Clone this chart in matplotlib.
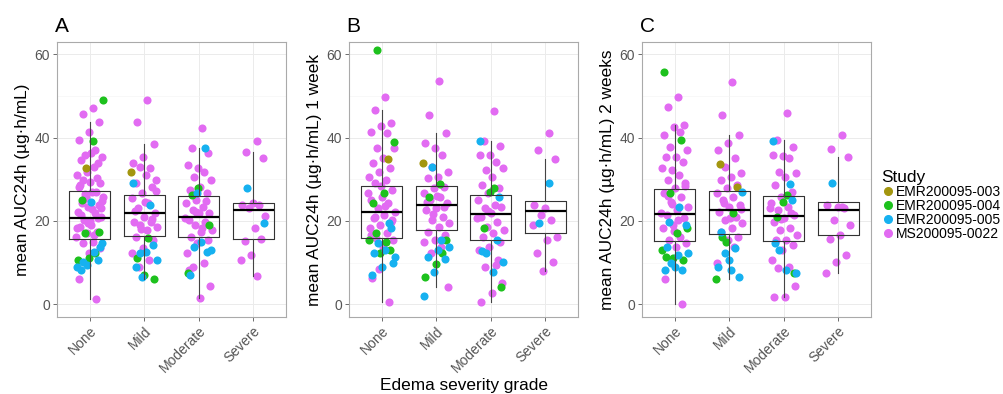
import numpy as np
import matplotlib.pyplot as plt
from matplotlib.lines import Line2D
from matplotlib.ticker import MultipleLocator

plt.rcParams['font.family'] = ['Liberation Sans', 'DejaVu Sans']

GRADES = ["None", "Mild", "Moderate", "Severe"]
STUDIES = ["EMR200095-003", "EMR200095-004", "EMR200095-005", "MS200095-0022"]
COLORS = ["#A3960F", "#1DC11D", "#16B1F0", "#E26BF2"]

# mean AUC24h per patient, by study and edema grade
A_003 = {"None": [32.6], "Mild": [31.8], "Moderate": [], "Severe": []}
A_004 = {"None": [49.0, 39.2, 25.0, 17.4, 11.0, 10.6, 12.2, 17.0],
         "Mild": [15.8, 11.0, 6.0, 7.0],
         "Moderate": [26.2, 19.0, 27.8, 7.4],
         "Severe": []}
A_005 = {"None": [14.6, 24.6, 8.2, 10.6, 9.4, 9.0, 12.6, 10.2, 13.8],
         "Mild": [29.0, 23.8, 12.2, 10.6, 12.6, 9.0, 14.2, 6.6],
         "Moderate": [37.4, 13.8, 13.0, 15.0, 7.0, 12.6, 26.6],
         "Severe": [27.8, 19.4]}
A_0022 = {"None": [47.0, 45.7, 43.8, 41.4, 39.4, 37.0, 35.8, 35.4, 36.2, 34.6, 33.8, 31.8,
                   31.0, 33.0, 29.8, 29.0, 29.4, 28.2, 27.0, 25.8, 25.8, 27.0, 24.2, 23.8,
                   23.4, 22.2, 21.8, 20.2, 21.0, 19.0, 18.6, 17.4, 17.0, 16.2, 15.0, 14.6,
                   13.4, 12.2, 6.0, 1.2, 26.4, 24.8, 22.8, 21.4, 20.6, 19.6, 18.2, 16.6,
                   25.2, 23.0, 20.0, 28.6, 30.4],
          "Mild": [49.0, 43.8, 38.4, 35.4, 33.8, 32.6, 33.0, 29.8, 31.0, 29.0, 28.2, 26.6,
                   25.4, 24.2, 23.0, 21.8, 21.0, 19.8, 19.8, 19.0, 18.6, 17.8, 16.2, 15.4,
                   13.4, 12.2, 10.6, 9.0, 27.2, 24.6, 22.4, 20.4, 18.0],
          "Moderate": [42.2, 37.6, 36.2, 32.6, 33.4, 31.8, 30.6, 29.8, 28.2, 27.4, 26.6, 25.0,
                       24.2, 23.4, 22.6, 21.8, 21.8, 20.2, 19.8, 19.0, 17.8, 17.4, 16.2, 15.4,
                       14.6, 12.2, 9.8, 9.0, 4.4, 1.4, 8.2, 24.8, 22.2, 20.6, 18.4],
          "Severe": [39.3, 36.5, 35.0, 24.2, 23.8, 23.8, 23.0, 21.2, 18.2, 15.2, 15.6, 11.8,
                     10.6, 6.8]}

B_003 = {"None": [34.9], "Mild": [33.8], "Moderate": [], "Severe": []}
B_004 = {"None": [61.0, 39.0, 26.6, 24.2, 13.0, 12.2, 15.4, 15.0, 17.0],
         "Mild": [28.9, 25.8, 15.4, 9.7, 6.5, 12.2],
         "Moderate": [27.8, 18.2, 4.2, 27.0],
         "Severe": []}
B_005 = {"None": [10.0, 9.0, 7.0, 19.4, 14.6, 11.4, 13.0, 12.2, 18.2],
         "Mild": [33.0, 13.8, 13.0, 11.4, 10.8, 7.8, 2.0, 15.4],
         "Moderate": [39.3, 15.4, 12.2, 10.2, 7.8, 12.9, 25.8],
         "Severe": [29.0, 19.6]}
B_0022 = {"None": [49.8, 46.6, 43.4, 42.8, 41.4, 41.0, 37.4, 37.4, 35.0, 33.8, 32.6, 31.8,
                   30.6, 29.8, 29.0, 27.4, 25.8, 25.0, 24.2, 23.0, 22.2, 21.4, 20.6, 19.8,
                   19.0, 18.2, 17.0, 15.8, 15.4, 13.8, 6.2, 0.5, 8.4, 26.6, 23.6, 21.0,
                   20.2, 28.4, 16.6],
          "Mild": [53.6, 45.4, 41.0, 37.4, 38.6, 35.8, 33.0, 31.8, 30.6, 30.2, 28.2, 27.8,
                   26.6, 25.8, 25.0, 24.2, 23.0, 22.6, 21.0, 20.2, 19.4, 18.6, 17.4, 16.6,
                   15.4, 15.0, 13.8, 12.2, 4.2, 26.0, 24.6, 23.4, 21.6],
          "Moderate": [46.5, 39.3, 38.0, 35.8, 35.8, 34.2, 32.2, 32.6, 30.6, 28.6, 27.8, 26.6,
                       25.0, 23.8, 23.0, 23.4, 21.8, 21.0, 19.8, 18.6, 17.8, 17.0, 16.2, 15.0,
                       13.8, 13.0, 9.4, 9.0, 5.0, 2.6, 0.6, 10.6, 22.4, 20.6],
          "Severe": [41.0, 37.0, 34.8, 23.0, 23.8, 20.2, 21.4, 16.2, 15.4, 12.4, 10.2, 8.1,
                     19.0]}

C_003 = {"None": [], "Mild": [33.7, 28.2], "Moderate": [], "Severe": []}
C_004 = {"None": [55.8, 39.4, 26.6, 18.2, 17.0, 11.4, 10.6, 11.0, 13.0],
         "Mild": [15.0, 6.0, 21.8, 16.2],
         "Moderate": [26.2, 21.0, 7.6, 24.6],
         "Severe": []}
C_005 = {"None": [23.4, 19.8, 19.0, 9.0, 8.2, 8.2, 9.8, 12.2, 11.8, 13.8],
         "Mild": [6.6, 10.6, 9.0, 13.4, 12.2, 27.0, 8.2, 17.4],
         "Moderate": [39.3, 28.9, 13.0, 7.4, 8.2, 14.6, 25.0],
         "Severe": [29.0]}
C_0022 = {"None": [49.7, 47.4, 43.0, 42.5, 40.6, 41.4, 37.8, 37.0, 35.4, 35.4, 34.2, 32.2,
                   32.6, 31.0, 29.8, 29.0, 27.8, 26.6, 25.8, 24.6, 23.4, 22.6, 21.4, 20.6,
                   19.0, 18.2, 16.2, 15.4, 14.6, 13.8, 6.1, 0.0, 24.0, 22.0, 20.2, 26.0,
                   28.4, 17.6],
          "Mild": [53.4, 45.4, 40.6, 38.6, 37.0, 35.0, 33.0, 31.4, 30.6, 29.8, 28.6, 27.8,
                   26.6, 25.8, 25.0, 23.8, 23.4, 22.2, 21.0, 20.2, 19.4, 18.2, 17.4, 16.2,
                   15.4, 9.8, 13.8, 24.4, 22.8, 20.8],
          "Moderate": [46.0, 39.4, 37.8, 35.7, 35.8, 35.0, 31.8, 31.4, 30.6, 28.6, 27.0, 25.8,
                       24.2, 23.4, 22.6, 21.4, 20.6, 19.8, 18.2, 17.8, 16.6, 15.4, 15.4, 14.2,
                       13.0, 10.6, 9.0, 8.6, 4.4, 1.8, 1.8, 22.0, 20.4, 23.0],
          "Severe": [40.6, 37.2, 35.4, 23.4, 23.8, 23.0, 20.2, 19.0, 16.6, 15.6, 11.8, 10.2,
                     7.4, 23.4]}

# boxplot summaries (median, hinges, whisker ends) per grade
A_MED = [20.6, 21.8, 21.0, 22.6]
A_Q1 = [15.6, 16.5, 16.1, 15.6]
A_Q3 = [27.2, 26.2, 26.0, 24.4]
A_LO = [1.2, 6.0, 1.4, 6.8]
A_HI = [43.8, 38.4, 37.6, 36.5]

B_MED = [22.2, 23.8, 21.7, 22.5]
B_Q1 = [15.9, 17.8, 15.5, 17.0]
B_Q3 = [28.5, 28.3, 26.2, 24.7]
B_LO = [0.5, 4.2, 0.6, 8.1]
B_HI = [46.6, 41.0, 39.3, 34.8]

C_MED = [21.6, 22.6, 21.3, 22.6]
C_Q1 = [15.3, 16.8, 15.2, 16.7]
C_Q3 = [27.6, 27.3, 26.1, 24.6]
C_LO = [0.0, 6.0, 1.8, 7.4]
C_HI = [43.0, 40.6, 39.4, 35.4]

PANELS = [
    ("A", "mean AUC24h (µg·h/mL)", [A_003, A_004, A_005, A_0022], (A_MED, A_Q1, A_Q3, A_LO, A_HI)),
    ("B", "mean AUC24h (µg·h/mL) 1 week", [B_003, B_004, B_005, B_0022], (B_MED, B_Q1, B_Q3, B_LO, B_HI)),
    ("C", "mean AUC24h (µg·h/mL) 2 weeks", [C_003, C_004, C_005, C_0022], (C_MED, C_Q1, C_Q3, C_LO, C_HI)),
]
LEFTS = [57, 349, 642]

fig = plt.figure(figsize=(10.04, 3.94), dpi=100)


def jitter(n, start):
    # deterministic spread of points across the box width
    k = np.arange(start, start + n) + 1
    return ((k * 0.6180339887) % 1.0 - 0.5) * 0.5


for (letter, ylab, studies, box), left in zip(PANELS, LEFTS):
    ax = fig.add_axes([left / 1004, 77 / 394, 229 / 1004, 275 / 394])
    xs = np.arange(1, len(GRADES) + 1)

    # jittered points; MS200095-0022 first so the smaller studies sit on top
    order = [3, 0, 1, 2]
    for gi, grade in enumerate(GRADES):
        start = 0
        for si in order:
            vals = studies[si][grade]
            if not vals:
                continue
            ax.scatter(xs[gi] + jitter(len(vals), start), vals, s=34, color=COLORS[si],
                       linewidths=0, zorder=2)
            start += len(vals)

    med, q1, q3, lo, hi = box
    stats = [dict(med=med[i], q1=q1[i], q3=q3[i], whislo=lo[i], whishi=hi[i], fliers=[])
             for i in range(len(GRADES))]
    ax.bxp(stats, positions=xs, widths=0.75, showfliers=False, showcaps=False,
           boxprops=dict(color="#333333", linewidth=0.8),
           whiskerprops=dict(color="#444444", linewidth=0.8),
           medianprops=dict(color="black", linewidth=1.6),
           manage_ticks=False, zorder=3)

    ax.set_xlim(0.4, 4.6)
    ax.set_ylim(-3.05, 62.95)
    ax.set_yticks([0, 20, 40, 60])
    ax.yaxis.set_minor_locator(MultipleLocator(10))
    ax.set_xticks(xs)
    ax.set_xticklabels(GRADES, rotation=45, ha="right", rotation_mode="anchor")
    ax.grid(True, which="major", color="#EBEBEB", linewidth=0.7, zorder=0)
    ax.grid(True, which="minor", axis="y", color="#F3F3F3", linewidth=0.4, zorder=0)
    ax.set_axisbelow(True)
    ax.tick_params(axis="both", which="major", length=3, width=0.6, color="#555555",
                   labelcolor="#555555", labelsize=10, pad=2)
    ax.tick_params(axis="y", which="minor", length=0)
    for sp in ax.spines.values():
        sp.set_color("#AAAAAA")
        sp.set_linewidth(0.8)

    ax.set_ylabel(ylab, fontsize=12.4)
    ax.yaxis.set_label_coords(-0.12, 0.5)
    ax.text(-0.01, 1.035, letter, transform=ax.transAxes, fontsize=15, va="baseline", ha="left")
    if letter == "B":
        ax.set_xlabel("Edema severity grade", fontsize=12.4, labelpad=2)

handles = [Line2D([], [], marker="o", linestyle="", markersize=5.5, color=c) for c in COLORS]
leg = fig.legend(handles, STUDIES, title="Study", loc="upper left",
                 bbox_to_anchor=(881 / 1004, 1 - 170 / 394), frameon=False, fontsize=10,
                 title_fontsize=12.4, handletextpad=0.1, labelspacing=0.0,
                 handlelength=1.0, borderaxespad=0, borderpad=0, alignment="left")

fig.savefig("out.png", dpi=100)
